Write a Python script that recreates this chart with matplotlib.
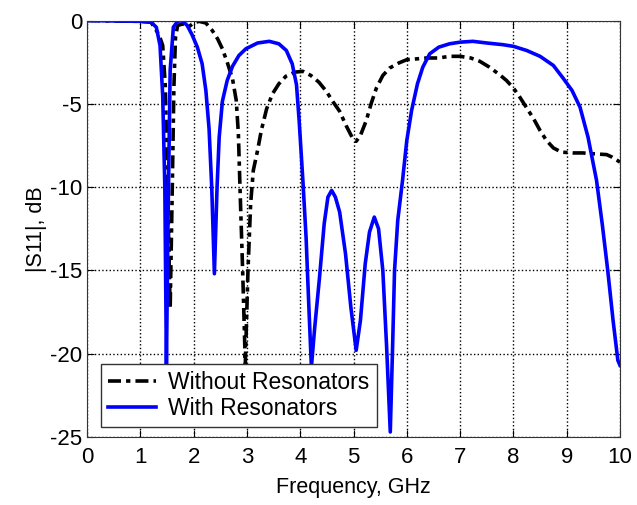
import matplotlib
matplotlib.use("Agg")
import matplotlib.pyplot as plt

plt.rcParams['font.family'] = ['Liberation Sans', 'DejaVu Sans']
plt.rcParams['axes.unicode_minus'] = False

# |S11| with resonators (blue)
freq_with = [0, 1.0, 1.2, 1.3, 1.37, 1.42, 1.46, 1.49, 1.52, 1.56, 1.62, 1.7, 1.78,
             1.88, 1.97, 2.07, 2.16, 2.23, 2.29, 2.34, 2.39, 2.44, 2.48, 2.54, 2.63,
             2.73, 2.85, 2.98, 3.2, 3.42, 3.6, 3.74, 3.85, 3.93, 3.98, 4.05, 4.11,
             4.16, 4.21, 4.27, 4.36, 4.45, 4.52, 4.59, 4.66, 4.74, 4.85, 4.95, 5.05,
             5.13, 5.22, 5.3, 5.39, 5.47, 5.55, 5.62, 5.69, 5.73, 5.77, 5.83, 5.92,
             6.0, 6.09, 6.2, 6.3, 6.43, 6.6, 6.8, 7.0, 7.24, 7.5, 7.8, 8.0, 8.25,
             8.5, 8.75, 8.93, 9.1, 9.25, 9.4, 9.56, 9.67, 9.77, 9.87, 9.96, 10.0]
s11_with = [0, -0.05, -0.1, -0.4, -1.5, -4.5, -10, -20.7, -12, -3, -0.4, -0.05, 0,
            -0.3, -0.85, -1.6, -2.6, -4.2, -6.5, -10, -15.2, -10, -7, -4.85, -3.6,
            -2.75, -2.1, -1.7, -1.35, -1.25, -1.4, -1.8, -2.6, -3.85, -6.0, -9.6, -13,
            -17, -20.8, -18.5, -15.5, -12.2, -10.6, -10.2, -10.6, -11.5, -14, -17.2, -19.8,
            -18, -14.6, -12.7, -11.8, -12.5, -15, -19.5, -24.7, -20, -15, -12, -9.6,
            -7.2, -5.4, -3.8, -2.8, -2.0, -1.6, -1.4, -1.3, -1.25, -1.35, -1.45, -1.55, -1.8,
            -2.15, -2.7, -3.45, -4.2, -5.2, -7.0, -9.6, -12.3, -15, -18, -20.4, -20.7]

# |S11| without resonators (black dash-dot)
freq_without = [0, 1.0, 1.2, 1.28, 1.35, 1.42, 1.47, 1.51, 1.56, 1.6, 1.63, 1.66, 1.7,
                1.8, 1.9, 2.0, 2.1, 2.23, 2.35, 2.45, 2.54, 2.63, 2.73, 2.8, 2.84,
                2.87, 2.92, 2.97, 3.02, 3.07, 3.12, 3.2, 3.27, 3.37, 3.48, 3.6, 3.73,
                3.9, 4.05, 4.2, 4.35, 4.49, 4.62, 4.74, 4.86, 4.98, 5.05, 5.13, 5.24,
                5.33, 5.43, 5.55, 5.68, 5.85, 6.0, 6.2, 6.37, 6.6, 6.8, 7.0, 7.2, 7.37,
                7.55, 7.74, 7.87, 8.0, 8.12, 8.25, 8.38, 8.5, 8.62, 8.75, 8.9, 9.12,
                9.3, 9.5, 9.75, 9.85, 10.0]
s11_without = [0, -0.05, -0.1, -0.5, -0.85, -1.5, -4, -10, -17.3, -10, -4, -1, -0.3,
               -0.2, -0.4, -0.15, -0.05, -0.15, -0.6, -1.1, -1.7, -2.5, -3.5, -4.8, -6.8,
               -10, -15, -20.6, -15, -11, -9.0, -7.8, -6.6, -5.3, -4.4, -3.8, -3.35,
               -3.1, -3.05, -3.3, -3.7, -4.25, -4.9, -5.45, -6.3, -7.05, -7.25, -6.9, -6.0,
               -5.0, -4.05, -3.3, -2.85, -2.55, -2.35, -2.3, -2.25, -2.25, -2.15, -2.15, -2.25, -2.45,
               -2.8, -3.25, -3.6, -4.05, -4.6, -5.25, -5.9, -6.6, -7.2, -7.65, -7.9, -7.95,
               -7.95, -8.0, -8.05, -8.2, -8.5]

x_ticks = list(range(0, 11))
y_ticks = [0, -5, -10, -15, -20, -25]

fig = plt.figure(figsize=(6.37, 5.05), dpi=100)
ax = fig.add_axes([0.1366, 0.1347, 0.8367, 0.8247])

ax.plot(freq_without, s11_without, color='black', linewidth=2.6,
        dashes=(3.6, 1.4, 1.2, 1.4), label='Without Resonators')
ax.plot(freq_with, s11_with, color='#0000ff', linewidth=2.6, label='With Resonators')

ax.set_xlim(0, 10)
ax.set_ylim(-25, 0)
ax.set_xticks(x_ticks)
ax.set_yticks(y_ticks)
ax.tick_params(direction='in', top=True, right=True, labelsize=16, length=5)
ax.tick_params(axis='x', pad=7)
ax.grid(True, color='black', linestyle=':', linewidth=1)
for s in ax.spines.values():
    s.set_color('#333333')

ax.set_xlabel('Frequency, GHz', fontsize=15.5, labelpad=7)
ax.set_ylabel('|S11|, dB', fontsize=15.5, labelpad=2)

leg = ax.legend(loc='lower left', bbox_to_anchor=(0.026, 0.024), borderaxespad=0,
                fontsize=16.5, fancybox=False, edgecolor='#333333', framealpha=1,
                handlelength=2.1, labelspacing=0.15, borderpad=0.3, handletextpad=0.55)
leg.get_frame().set_linewidth(1)

plt.savefig('out.png', dpi=100)
